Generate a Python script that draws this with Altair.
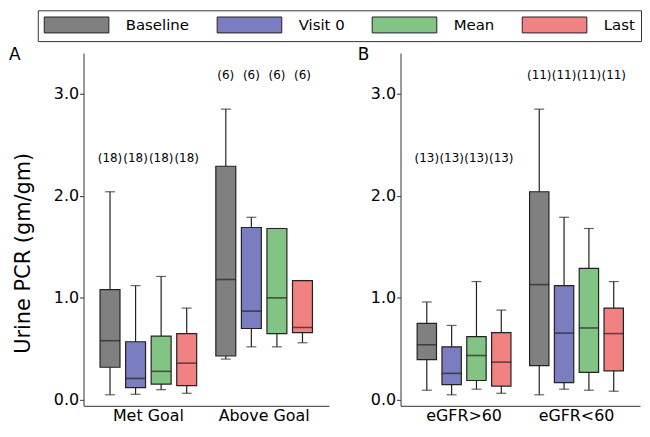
import altair as alt
import pandas as pd

series = ["Baseline", "Visit 0", "Mean", "Last"]
colors = ["#808080", "#7a7dbf", "#82c483", "#f28282"]

groups_a = ["Met Goal", "Above Goal"]
groups_b = ["eGFR>60", "eGFR<60"]

# Panel A — order: Met Goal (Baseline, Visit 0, Mean, Last), Above Goal (...)
a_low = [0.05, 0.055, 0.10, 0.065, 0.40, 0.52, 0.52, 0.56]
a_q1 = [0.32, 0.12, 0.155, 0.14, 0.43, 0.70, 0.65, 0.66]
a_median = [0.58, 0.21, 0.28, 0.36, 1.18, 0.87, 1.00, 0.71]
a_q3 = [1.08, 0.57, 0.625, 0.65, 2.29, 1.69, 1.68, 1.17]
a_high = [2.04, 1.12, 1.21, 0.90, 2.85, 1.79, 1.68, 1.17]
a_n = [18, 18, 18, 18, 6, 6, 6, 6]
a_label_y = [2.37, 2.37, 2.37, 2.37, 3.18, 3.18, 3.18, 3.18]

# Panel B — order: eGFR>60 (Baseline, Visit 0, Mean, Last), eGFR<60 (...)
b_low = [0.095, 0.05, 0.105, 0.065, 0.05, 0.105, 0.095, 0.085]
b_q1 = [0.395, 0.15, 0.19, 0.135, 0.335, 0.17, 0.27, 0.285]
b_median = [0.54, 0.26, 0.435, 0.37, 1.13, 0.655, 0.705, 0.65]
b_q3 = [0.75, 0.52, 0.62, 0.66, 2.04, 1.12, 1.29, 0.90]
b_high = [0.96, 0.73, 1.16, 0.88, 2.85, 1.79, 1.68, 1.16]
b_n = [13, 13, 13, 13, 11, 11, 11, 11]
b_label_y = [2.37, 2.37, 2.37, 2.37, 3.18, 3.18, 3.18, 3.18]

panel_letters = ["A", "B"]
y_ticks = [0, 1, 2, 3]
y_domain = [-0.058, 3.40]

FONT = "DejaVu Sans"
INK = "#222222"
AXIS = "#333333"
PLOT_H = 355


def make_df(groups, low, q1, med, q3, high, n, label_y):
    return pd.DataFrame({
        "group": [g for g in groups for _ in series],
        "series": series * len(groups),
        "low": low, "q1": q1, "median": med, "q3": q3, "high": high,
        "nlab": ["(%d)" % v for v in n],
        "label_y": label_y,
    })


def panel(df, groups, letter, width, pad_outer, y_title, letter_x):
    xenc = alt.X("group:N", sort=groups,
                 scale=alt.Scale(domain=groups, paddingInner=0, paddingOuter=pad_outer),
                 axis=alt.Axis(title=None, ticks=False, labelAngle=0, labelFontSize=16,
                               labelFont=FONT, labelColor="black", labelPadding=2,
                               domainColor=AXIS, domainWidth=1))
    xo = alt.XOffset("series:N", sort=series,
                     scale=alt.Scale(domain=series, paddingInner=0.22, paddingOuter=0.375))
    yscale = alt.Scale(domain=y_domain, nice=False, zero=False)
    yaxis = alt.Axis(values=y_ticks, format=".1f", grid=False, labelFontSize=16, labelFont=FONT,
                     labelColor="black", tickSize=4, labelPadding=1, domainColor=AXIS,
                     tickColor=AXIS, domainWidth=1, title=y_title,
                     titleFont=FONT, titleFontSize=21, titleFontWeight="normal",
                     titleColor="black", titlePadding=20, titleY=201)

    def Y(field):
        return alt.Y(field, scale=yscale, axis=yaxis)

    base = alt.Chart(df)
    whisk = base.mark_rule(color=INK, strokeWidth=1.2).encode(
        x=xenc, xOffset=xo, y=Y("low:Q"), y2="high:Q")
    caps_lo = base.mark_tick(color=INK, thickness=1.2, size=10).encode(
        x=xenc, xOffset=xo, y=Y("low:Q"))
    caps_hi = base.mark_tick(color=INK, thickness=1.2, size=10).encode(
        x=xenc, xOffset=xo, y=Y("high:Q"))
    box = base.mark_bar(stroke=INK, strokeWidth=1.2, opacity=1).encode(
        x=xenc, xOffset=xo, y=Y("q1:Q"), y2="q3:Q",
        color=alt.Color("series:N", sort=series, title=None,
                        scale=alt.Scale(domain=series, range=colors),
                        legend=alt.Legend(orient="none", legendX=-46, legendY=-43,
                                          direction="horizontal",
                                          symbolType="M-1,-1H7.125V1H-1Z", symbolSize=256,
                                          symbolStrokeColor=INK, symbolStrokeWidth=1,
                                          symbolOpacity=1, labelFontSize=15, labelFont=FONT,
                                          labelColor="black", labelOffset=65.5,
                                          columnPadding=25, padding=6,
                                          strokeColor=AXIS, fillColor="white")))
    med = base.mark_tick(color=INK, thickness=1.6, size=20).encode(
        x=xenc, xOffset=xo, y=Y("median:Q"))
    txt = base.mark_text(fontSize=12, font=FONT, color="black", baseline="middle").encode(
        x=xenc, xOffset=xo, y=Y("label_y:Q"), text="nlab:N")
    tag = alt.Chart(pd.DataFrame({"panel": [letter]})).mark_text(
        fontSize=17, font=FONT, color="black", align="left", baseline="alphabetic"
    ).encode(text="panel:N", x=alt.value(letter_x), y=alt.value(7))
    return alt.layer(whisk, caps_lo, caps_hi, box, med, txt, tag).properties(
        width=width, height=PLOT_H)


df_a = make_df(groups_a, a_low, a_q1, a_median, a_q3, a_high, a_n, a_label_y)
df_b = make_df(groups_b, b_low, b_q1, b_median, b_q3, b_high, b_n, b_label_y)

left = panel(df_a, groups_a, panel_letters[0], 247, 0.06, "Urine PCR (gm/gm)", -75)
right = panel(df_b, groups_b, panel_letters[1], 241, 0.065, "", -43)

chart = alt.hconcat(left, right, spacing=27).resolve_scale(
    x="independent", y="independent", color="shared", xOffset="independent"
).resolve_legend(color="shared").properties(padding=0).configure_view(
    stroke="transparent")

chart.save("out.html", embed_options={"renderer": "svg", "actions": False})
